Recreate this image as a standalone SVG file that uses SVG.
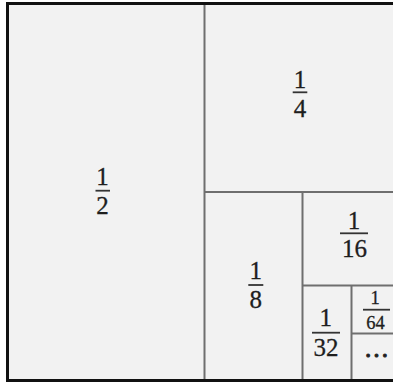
<svg xmlns="http://www.w3.org/2000/svg" width="393" height="383" viewBox="0 0 393 383">
<style>
.ln{stroke:#6f6f6f;stroke-width:2;fill:none}
.bar{stroke:#333;stroke-width:1.8}
text{font-family:"Liberation Serif","DejaVu Serif",serif;fill:#1e1e1e;text-anchor:middle;stroke:#1e1e1e;stroke-width:0.3}
.big{font-size:25px}
.sm{font-size:18.5px}
</style>
<rect x="0" y="0" width="393" height="383" fill="#ffffff"/>
<rect x="7.5" y="3.5" width="400" height="377" fill="#f2f2f2"/>
<g id="connectors">
<line class="ln" x1="204.5" y1="3" x2="204.5" y2="381"/>
<line class="ln" x1="204" y1="192" x2="393" y2="192"/>
<line class="ln" x1="302.5" y1="192" x2="302.5" y2="381"/>
<line class="ln" x1="302" y1="285.5" x2="393" y2="285.5"/>
<line class="ln" x1="351.5" y1="285.5" x2="351.5" y2="381"/>
<line class="ln" x1="351" y1="333.5" x2="393" y2="333.5"/>
</g>
<rect x="7.5" y="3.5" width="400" height="377" fill="none" stroke="#111" stroke-width="3"/>
<g id="half">
<text class="big" x="102.5" y="185">1</text>
<line class="bar" x1="95.5" y1="190.7" x2="110" y2="190.7"/>
<text class="big" x="102.5" y="214">2</text>
</g>
<g id="quarter">
<text class="big" x="300" y="88">1</text>
<line class="bar" x1="292.7" y1="92.3" x2="307.3" y2="92.3"/>
<text class="big" x="300" y="117">4</text>
</g>
<g id="eighth">
<text class="big" x="255.7" y="279">1</text>
<line class="bar" x1="248.3" y1="285" x2="263.3" y2="285"/>
<text class="big" x="255.7" y="308">8</text>
</g>
<g id="sixteenth">
<text class="big" x="354" y="229">1</text>
<line class="bar" x1="340" y1="233.3" x2="368" y2="233.3"/>
<text class="big" x="354.5" y="257">16</text>
</g>
<g id="thirtysecond">
<text class="big" x="325.7" y="326">1</text>
<line class="bar" x1="312" y1="332.7" x2="340" y2="332.7"/>
<text class="big" x="326" y="356">32</text>
</g>
<g id="sixtyfourth">
<text class="sm" x="375" y="303.7">1</text>
<line class="bar" x1="363" y1="309.7" x2="390" y2="309.7"/>
<text class="sm" x="375.5" y="329">64</text>
</g>
<g id="rest">
<text class="big" x="376.5" y="357" style="stroke-width:1">…</text>
</g>
</svg>
